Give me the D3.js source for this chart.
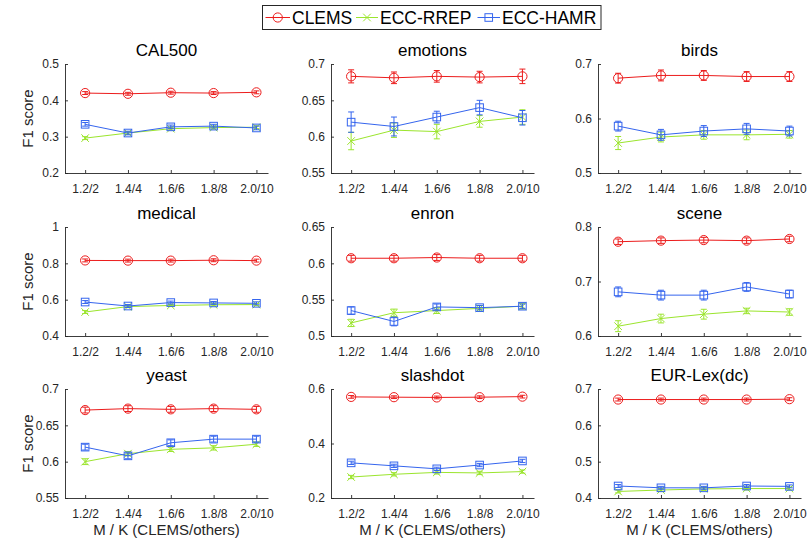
<!DOCTYPE html>
<html>
<head>
<meta charset="utf-8">
<script src="https://cdn.jsdelivr.net/npm/d3@7"></script>
<style>
  html, body { margin: 0; padding: 0; background: #fff; }
  svg { display: block; font-family: "Liberation Sans", Arial, Helvetica, sans-serif; }
</style>
</head>
<body>
<script>
// ---------------- DATA ----------------
const datasets = ["CAL500", "emotions", "birds", "medical", "enron", "scene", "yeast", "slashdot", "EUR-Lex(dc)"];
const xLabels = ["1.2/2", "1.4/4", "1.6/6", "1.8/8", "2.0/10"];
const seriesNames = ["CLEMS", "ECC-RREP", "ECC-HAMR"];

const clemsValues = [
  [0.420, 0.418, 0.421, 0.420, 0.422],
  [0.683, 0.681, 0.683, 0.682, 0.683],
  [0.674, 0.679, 0.679, 0.677, 0.677],
  [0.816, 0.815, 0.815, 0.817, 0.815],
  [0.607, 0.607, 0.608, 0.607, 0.607],
  [0.773, 0.775, 0.776, 0.775, 0.778],
  [0.671, 0.673, 0.672, 0.673, 0.672],
  [0.571, 0.570, 0.569, 0.570, 0.572],
  [0.671, 0.671, 0.671, 0.671, 0.672]
];
const clemsErrors = [
  [0.004, 0.004, 0.004, 0.004, 0.004],
  [0.009, 0.008, 0.008, 0.008, 0.010],
  [0.009, 0.010, 0.009, 0.009, 0.009],
  [0.008, 0.008, 0.008, 0.008, 0.008],
  [0.004, 0.004, 0.004, 0.004, 0.004],
  [0.005, 0.005, 0.005, 0.005, 0.005],
  [0.004, 0.004, 0.004, 0.004, 0.004],
  [0.005, 0.005, 0.005, 0.005, 0.005],
  [0.004, 0.004, 0.004, 0.004, 0.004]
];
const rrepValues = [
  [0.296, 0.310, 0.322, 0.325, 0.326],
  [0.594, 0.609, 0.607, 0.621, 0.627],
  [0.555, 0.566, 0.570, 0.570, 0.571],
  [0.532, 0.562, 0.568, 0.572, 0.573],
  [0.518, 0.532, 0.535, 0.538, 0.541],
  [0.618, 0.632, 0.640, 0.646, 0.644],
  [0.600, 0.611, 0.617, 0.619, 0.624],
  [0.277, 0.287, 0.294, 0.292, 0.297],
  [0.418, 0.422, 0.425, 0.426, 0.426]
];
const rrepErrors = [
  [0.004, 0.004, 0.004, 0.004, 0.004],
  [0.012, 0.010, 0.010, 0.008, 0.010],
  [0.012, 0.009, 0.008, 0.009, 0.007],
  [0.008, 0.006, 0.006, 0.006, 0.006],
  [0.005, 0.005, 0.004, 0.004, 0.004],
  [0.010, 0.008, 0.009, 0.005, 0.006],
  [0.004, 0.003, 0.003, 0.003, 0.003],
  [0.006, 0.006, 0.006, 0.006, 0.006],
  [0.004, 0.004, 0.004, 0.004, 0.004]
];
const hamrValues = [
  [0.334, 0.310, 0.327, 0.329, 0.324],
  [0.620, 0.614, 0.627, 0.640, 0.626],
  [0.586, 0.570, 0.577, 0.581, 0.577],
  [0.587, 0.565, 0.584, 0.582, 0.580],
  [0.535, 0.520, 0.540, 0.539, 0.541],
  [0.681, 0.675, 0.675, 0.690, 0.677],
  [0.620, 0.608, 0.626, 0.631, 0.631],
  [0.329, 0.318, 0.307, 0.321, 0.336],
  [0.433, 0.428, 0.428, 0.433, 0.432]
];
const hamrErrors = [
  [0.005, 0.005, 0.005, 0.005, 0.005],
  [0.014, 0.013, 0.008, 0.010, 0.010],
  [0.009, 0.010, 0.010, 0.010, 0.009],
  [0.008, 0.008, 0.008, 0.008, 0.008],
  [0.005, 0.006, 0.004, 0.003, 0.003],
  [0.009, 0.009, 0.009, 0.008, 0.007],
  [0.004, 0.004, 0.004, 0.004, 0.004],
  [0.006, 0.006, 0.006, 0.006, 0.006],
  [0.004, 0.004, 0.004, 0.004, 0.004]
];
const yDomains = [
  [0.2, 0.5], [0.55, 0.7], [0.5, 0.7],
  [0.4, 1.0], [0.5, 0.65], [0.6, 0.8],
  [0.55, 0.7], [0.2, 0.6], [0.4, 0.7]
];
const yTicks = [
  [0.2, 0.3, 0.4, 0.5], [0.55, 0.6, 0.65, 0.7], [0.5, 0.6, 0.7],
  [0.4, 0.6, 0.8, 1], [0.5, 0.55, 0.6, 0.65], [0.6, 0.7, 0.8],
  [0.55, 0.6, 0.65, 0.7], [0.2, 0.4, 0.6], [0.4, 0.5, 0.6, 0.7]
];
const yLabelText = "F1 score";
const xLabelText = "M / K (CLEMS/others)";

// ---------------- STYLE / LAYOUT ----------------
const W = 807, H = 538;
const colLeft = [65, 331, 598];
const rowTop = [64, 227, 389];
const plotW = 203, plotH = 109;
const colors = ["#ec1c1c", "#9be52d", "#3565ee"];
const markers = ["circle", "x", "square"];
const axisColor = "#262626";

const svg = d3.select("body").append("svg").attr("width", W).attr("height", H);

const x = d3.scaleLinear().domain([0.53, 5.27]).range([0, plotW]);

const seriesVals = [clemsValues, rrepValues, hamrValues];
const seriesErrs = [clemsErrors, rrepErrors, hamrErrors];

function drawMarker(g, type, cx, cy, color) {
  if (type === "circle") {
    g.append("circle").attr("cx", cx).attr("cy", cy).attr("r", 4.6)
      .attr("fill", "none").attr("stroke", color).attr("stroke-width", 1);
  } else if (type === "square") {
    const s = 7.6;
    g.append("rect").attr("x", cx - s / 2).attr("y", cy - s / 2).attr("width", s).attr("height", s)
      .attr("fill", "none").attr("stroke", color).attr("stroke-width", 1);
  } else {
    const s = 3.8;
    g.append("path").attr("d", `M${cx - s},${cy - s}L${cx + s},${cy + s}M${cx - s},${cy + s}L${cx + s},${cy - s}`)
      .attr("fill", "none").attr("stroke", color).attr("stroke-width", 1);
  }
}

datasets.forEach((name, di) => {
  const row = Math.floor(di / 3), col = di % 3;
  const g = svg.append("g").attr("transform", `translate(${colLeft[col]},${rowTop[row]})`);
  const y = d3.scaleLinear().domain(yDomains[di]).range([plotH, 0]);

  // axes
  const yAxis = d3.axisLeft(y).tickValues(yTicks[di]).tickFormat(d => String(d))
    .tickSize(-3).tickPadding(6).tickSizeOuter(0);
  const xAxis = d3.axisBottom(x).tickValues([1, 2, 3, 4, 5]).tickFormat((d, i) => xLabels[i])
    .tickSize(-3).tickPadding(11).tickSizeOuter(0);

  const ga = g.append("g").call(yAxis);
  const gb = g.append("g").attr("transform", `translate(0,${plotH})`).call(xAxis);
  [ga, gb].forEach(a => {
    a.select(".domain").attr("stroke", axisColor).attr("stroke-width", 0.9);
    a.selectAll(".tick line").attr("stroke", axisColor).attr("stroke-width", 0.9);
    a.selectAll(".tick text").attr("fill", axisColor).style("font-size", "12px")
      .style("font-family", "'Liberation Sans', Arial, sans-serif");
  });

  // title
  g.append("text").attr("x", plotW / 2).attr("y", -8).attr("text-anchor", "middle")
    .style("font-size", "17px").attr("fill", "#000").text(name);

  // series
  seriesVals.forEach((vals, si) => {
    const v = vals[di], e = seriesErrs[si][di];
    const color = colors[si];
    const sg = g.append("g");
    const line = d3.line().x((d, i) => x(i + 1)).y(d => y(d));
    sg.append("path").attr("d", line(v)).attr("fill", "none").attr("stroke", color).attr("stroke-width", 1);
    v.forEach((d, i) => {
      const cx = x(i + 1);
      const y1 = y(d + e[i]), y2 = y(d - e[i]);
      sg.append("path").attr("d", `M${cx},${y1}L${cx},${y2}M${cx - 3},${y1}L${cx + 3},${y1}M${cx - 3},${y2}L${cx + 3},${y2}`)
        .attr("fill", "none").attr("stroke", color).attr("stroke-width", 1);
      drawMarker(sg, markers[si], cx, y(d), color);
    });
  });

  if (col === 0) {
    g.append("text").attr("transform", `translate(${33 - colLeft[0]},${plotH / 2}) rotate(-90)`)
      .attr("text-anchor", "middle").style("font-size", "15px").attr("fill", axisColor).text(yLabelText);
  }
  if (row === 2) {
    g.append("text").attr("x", plotW / 2).attr("y", plotH + 37).attr("text-anchor", "middle")
      .style("font-size", "15px").attr("fill", axisColor).text(xLabelText);
  }
});

// legend
const lg = svg.append("g");
lg.append("rect").attr("x", 262.5).attr("y", 5.5).attr("width", 338.5).attr("height", 24)
  .attr("fill", "#fff").attr("stroke", axisColor).attr("stroke-width", 1);
const legendLineX = [[265.5, 290], [356, 378], [477.5, 500]];
seriesNames.forEach((nm, si) => {
  const [x0, x1] = legendLineX[si];
  const cy = 17.5;
  lg.append("line").attr("x1", x0).attr("x2", x1).attr("y1", cy).attr("y2", cy)
    .attr("stroke", colors[si]).attr("stroke-width", 1);
  drawMarker(lg, markers[si], (x0 + x1) / 2, cy, colors[si]);
  lg.append("text").attr("x", x1 + 2).attr("y", 23.5).style("font-size", "17.5px")
    .attr("fill", "#000").text(nm);
});
</script>
</body>
</html>
